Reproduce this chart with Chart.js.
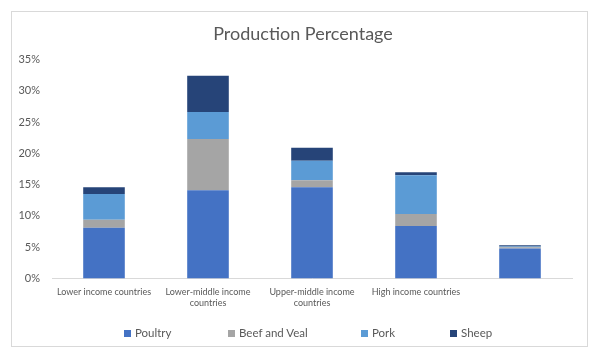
<!DOCTYPE html>
<html>
<head>
<meta charset="utf-8">
<script src="https://cdn.jsdelivr.net/npm/chart.js@4/dist/chart.umd.min.js"></script>
<style>
  html, body { margin: 0; padding: 0; background: #fff; }
  #wrap { position: relative; width: 602px; height: 355px; overflow: hidden; }
  #c { position: absolute; left: 0; top: 0; }
  #title { position: absolute; left: 0; width: 606px; top: 21.5px; text-align: center; font-family: Lato, "Open Sans", sans-serif; font-size: 18px; line-height: 22px; color: #595959; }
  .lg { position: absolute; top: 326px; font-family: Lato, "Open Sans", sans-serif; font-size: 11.5px; color: #595959; white-space: nowrap; line-height: 14px; }
  .lg i { display: inline-block; width: 7px; height: 7px; margin-right: 4px; vertical-align: 0px; }
</style>
</head>
<body>
<div id="wrap">
  <canvas id="c" width="602" height="355"></canvas>
  <div id="title">Production Percentage</div>
  <div id="legend"></div>
</div>
<script>
const categories = [
  "Lower income countries",
  ["Lower-middle income", "countries"],
  ["Upper-middle income", "countries"],
  "High income countries",
  ""
];
const seriesNames = ["Poultry", "Beef and Veal", "Pork", "Sheep"];
const poultry = [8.1, 14.1, 14.6, 8.4, 4.8];
const beefVeal = [1.3, 8.2, 1.1, 1.9, 0.2];
const pork = [4.1, 4.3, 3.1, 6.2, 0.1];
const sheep = [1.1, 5.8, 2.1, 0.5, 0.2];
const yTicks = [0, 5, 10, 15, 20, 25, 30, 35];

const colors = ["#4472C4", "#A5A5A5", "#5B9BD5", "#264478"];
const seriesData = [poultry, beefVeal, pork, sheep];
const legendLefts = [124, 228, 361, 450];

const FONT = "Lato, 'Open Sans', sans-serif";
const GREY = "#595959";

const frame = {
  id: "frame",
  beforeDraw(chart) {
    const ctx = chart.ctx;
    ctx.save();
    ctx.fillStyle = "#fff";
    ctx.fillRect(0, 0, chart.width, chart.height);
    ctx.strokeStyle = "#d9d9d9";
    ctx.lineWidth = 1;
    ctx.strokeRect(11.5, 11.5, 576, 335);
    ctx.restore();
  }
};

new Chart(document.getElementById("c"), {
  type: "bar",
  data: {
    labels: categories,
    datasets: seriesNames.map((n, i) => ({
      label: n,
      data: seriesData[i],
      backgroundColor: colors[i],
      borderWidth: 0,
      categoryPercentage: 1,
      barPercentage: 0.4
    }))
  },
  plugins: [frame],
  options: {
    responsive: false,
    animation: false,
    layout: { padding: { left: 12, right: 30, top: 59.5, bottom: 36.5 } },
    plugins: {
      legend: { display: false },
      tooltip: { enabled: false },
      title: { display: false }
    },
    scales: {
      x: {
        stacked: true,
        grid: { display: false, drawTicks: false },
        border: { display: true, color: "#d9d9d9", width: 1 },
        ticks: { color: GREY, font: { family: FONT, size: 9 }, padding: 8, maxRotation: 0, autoSkip: false },
        afterFit(s) { s.height = 40; }
      },
      y: {
        stacked: true,
        min: 0, max: 35,
        afterBuildTicks(s) { s.ticks = yTicks.map(v => ({ value: v })); },
        grid: { display: false, drawTicks: false },
        border: { display: false },
        ticks: { color: GREY, font: { family: FONT, size: 11 }, padding: 12, callback: v => v + "%" },
        afterFit(s) { s.width = 40; }
      }
    }
  }
});

const lg = document.getElementById("legend");
seriesNames.forEach((n, i) => {
  const d = document.createElement("div");
  d.className = "lg";
  d.style.left = legendLefts[i] + "px";
  const sw = document.createElement("i");
  sw.style.background = colors[i];
  d.appendChild(sw);
  d.appendChild(document.createTextNode(n));
  lg.appendChild(d);
});
</script>
</body>
</html>
